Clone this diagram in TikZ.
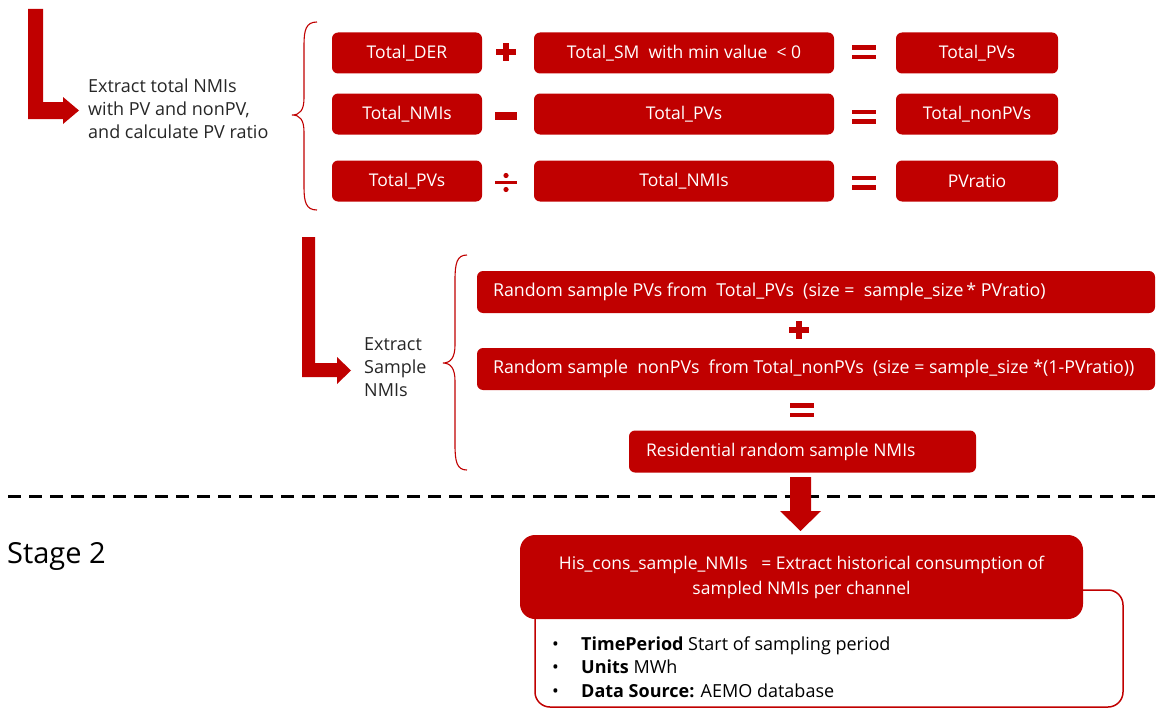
\documentclass[tikz,border=0pt]{standalone}
\usepackage{fontspec}
\setmainfont{Open Sans}
\definecolor{dred}{HTML}{C00000}
\definecolor{txt}{HTML}{262626}
\newcommand\myfs{\fontsize{17.5}{23}\selectfont}
\begin{document}
\begin{tikzpicture}[x=1pt,y=-1pt,
  rbox/.style={fill=dred, rounded corners=6pt, minimum height=41pt, text=white, font=\myfs, inner sep=0pt},
  wbox/.style={rbox, minimum height=42pt, minimum width=678pt, font=\fontsize{17.8}{23}\selectfont},
  lbl/.style={text=txt, font=\fontsize{18}{23}\selectfont, align=left, anchor=west, inner sep=0pt},
  brc/.style={draw=dred, line width=1.1pt},
  plusop/.pic={\fill[dred] (-10,-3.2) rectangle (10,3.2); \fill[dred] (-3.3,-9) rectangle (3.3,9);},
  minusop/.pic={\fill[dred] (-11,-4) rectangle (11,4);},
  divop/.pic={\fill[dred] (-11,-1.7) rectangle (11,1.7); \fill[dred] (0,-7) circle (2.6); \fill[dred] (0,7) circle (2.6);},
  eqop/.pic={\fill[dred] (-12,-7) rectangle (12,-2.5); \fill[dred] (-12,2.5) rectangle (12,7);}]
\useasboundingbox (0,0) rectangle (1165,709);

% ---------- Stage 1, part 1 ----------
\fill[dred] (28,9) -- (43,9) -- (43,102) -- (63,102) -- (63,97) -- (79,110.5) -- (63,124) -- (63,119) -- (28,119) -- cycle;
\node[lbl] (t1) at (88,109) {Extract total NMIs\\with PV and nonPV,\\and calculate PV ratio};
\draw[brc] (317,22) .. controls (306,22) and (304,30) .. (304,45) -- (304,98) .. controls (304,110) and (300,115) .. (292,115)
  .. controls (300,115) and (304,120) .. (304,132) -- (304,187) .. controls (304,202) and (306,210) .. (317,210);

\node[rbox, minimum width=150pt] (der) at (407,53) {Total\_DER};
\node[rbox, minimum width=300pt] (sm) at (684,53) {Total\_SM\ \ with min value \ <\ 0};
\node[rbox, minimum width=162pt] (pv1) at (977,53) {Total\_PVs};
\node[rbox, minimum width=150pt] (nmi1) at (407,114) {Total\_NMIs};
\node[rbox, minimum width=300pt] (pv2) at (684,114) {Total\_PVs};
\node[rbox, minimum width=162pt] (npv) at (977,114) {Total\_nonPVs};
\node[rbox, minimum width=150pt] (pv3) at (407,181) {Total\_PVs};
\node[rbox, minimum width=300pt] (nmi2) at (684,181) {Total\_NMIs};
\node[rbox, minimum width=162pt] (ratio) at (977,181) {PVratio};

\pic at (506,52) {plusop};
\pic at (506,116) {minusop};
\pic at (506,182.5) {divop};
\pic at (864,52.5) {eqop};
\pic at (864,116.5) {eqop};
\pic at (864,182.5) {eqop};

% ---------- Stage 1, part 2 ----------
\fill[dred] (302,237) -- (315,237) -- (315,363) -- (337,363) -- (337,357) -- (351,370.5) -- (337,384) -- (337,377) -- (302,377) -- cycle;
\node[lbl] (t2) at (364,367) {Extract\\Sample\\NMIs};
\draw[brc] (467,255) .. controls (457,255) and (455,263) .. (455,280) -- (455,345) .. controls (455,357) and (451,363) .. (443,363)
  .. controls (451,363) and (455,369) .. (455,381) -- (455,445) .. controls (455,462) and (457,470) .. (467,470);

\node[wbox] (rs1) at (816,292)
  {\makebox[646pt][l]{Random sample PVs from\ \ Total\_PVs\ \ (size = \ sample\_size\,* PVratio)}};
\node[wbox] (rs2) at (816,369)
  {\makebox[646pt][l]{Random sample\ \ nonPVs\ \ from Total\_nonPVs\ \ (size = sample\_size *(1-PVratio))}};
\pic at (799,330) {plusop};
\pic at (801.5,410) {eqop};
\node[rbox, minimum height=42pt, minimum width=347pt] (res) at (802.5,451.5)
  {\makebox[313pt][l]{Residential random sample NMIs}};

% ---------- divider ----------
\draw[line width=3pt, dash pattern=on 13pt off 8pt] (8,496) -- (1160,496);
\fill[dred] (790,477) -- (811,477) -- (811,511) -- (821,511) -- (800.5,531) -- (780,511) -- (790,511) -- cycle;

% ---------- Stage 2 ----------
\node[anchor=west, inner sep=0pt, font=\fontsize{29}{32}\selectfont] (stage) at (7,556) {Stage 2};
\draw[dred, line width=1.5pt, rounded corners=15pt] (535,590) rectangle (1123,707);
\node[rbox, rounded corners=15pt, minimum width=563pt, minimum height=84pt, align=center, font=\fontsize{17.5}{25}\selectfont] (his) at (801.5,577)
  {His\_cons\_sample\_NMIs\ \ \ = Extract historical consumption of\\sampled NMIs per channel};
\node[anchor=west, inner sep=0pt, align=left, font=\fontsize{18}{23.5}\selectfont] (bul) at (552,667)
  {\makebox[29pt][l]{•}\textbf{TimePeriod} Start of sampling period\\
   \makebox[29pt][l]{•}\textbf{Units} MWh\\
   \makebox[29pt][l]{•}\textbf{Data Source:} AEMO database};
\end{tikzpicture}
\end{document}
